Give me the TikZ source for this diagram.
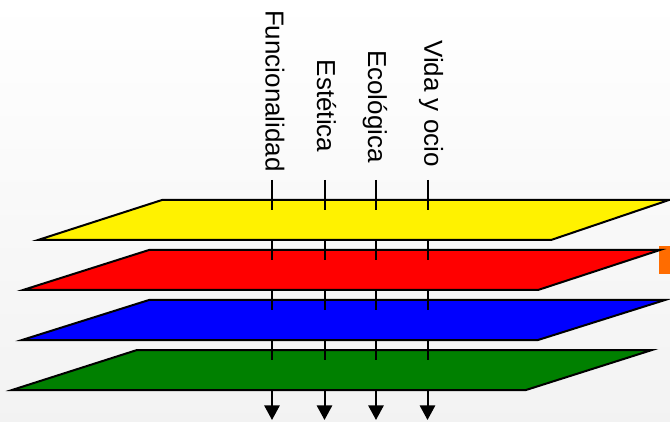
\documentclass[tikz,border=0pt]{standalone}
\usepackage{fontspec}
\setmainfont{Liberation Sans}
\usetikzlibrary{arrows.meta}
\definecolor{tabOrange}{RGB}{255,108,0}
\definecolor{planeGreen}{RGB}{0,128,0}
\begin{document}
\begin{tikzpicture}[x=0.75pt, y=0.75pt]
		% Define the styles for planes, rods and labels
		\tikzset{plane/.style={draw=black, line width=1.5pt, line join=miter},
			rod/.style={draw=black, line width=1.5pt},
			tip/.style={-{Triangle[width=11.5pt, length=11pt]}},
			tag/.style={rotate=-90, inner sep=0pt, font=\fontsize{19.5}{22}\selectfont}}
		
		% Background and bounding box
		\shade[top color=white, middle color=white, bottom color=black!5] (0,0) rectangle (670,421);
		\useasboundingbox (0,0) rectangle (670,421);
		
		% Labels
		\node[tag] (func) at (275,330) {Funcionalidad}; \node[tag] (est) at (326.5,315) {Estética};
		\node[tag] (eco) at (375,314.5) {Ecológica}; \node[tag] (vida) at (431,317.5) {Vida y ocio};
		
		% Tops of the rods and the levels where they cross the planes
		\coordinate (t1) at (272,241); \coordinate (t2) at (324.5,241);
		\coordinate (t3) at (376,241); \coordinate (t4) at (427.5,241);
		\coordinate (yin) at (0,211); \coordinate (yout) at (0,181);
		\coordinate (rin) at (0,161); \coordinate (rout) at (0,131);
		\coordinate (bin) at (0,111); \coordinate (bout) at (0,81);
		\coordinate (gin) at (0,61); \coordinate (gout) at (0,31);
		\coordinate (floor) at (0,1);
		
		% Draw the orange tab behind the red plane
		\fill[tabOrange] (659,147) rectangle (672,175);
		
		% Draw the planes
		\filldraw[plane, fill=yellow] (162,221) -- (669,221) -- (551,181) -- (38,181) -- cycle;
		\filldraw[plane, fill=red] (149,171) -- (660,171) -- (538,131) -- (23,131) -- cycle;
		\filldraw[plane, fill=blue] (149,121) -- (665,121) -- (538,81) -- (22,81) -- cycle;
		\filldraw[plane, fill=planeGreen] (137,71) -- (652,71) -- (526,31) -- (12,31) -- cycle;
		
		% Draw the rods through the planes
		\draw[rod] (t1) -- (t1 |- yin) (t1 |- yout) -- (t1 |- rin) (t1 |- rout) -- (t1 |- bin)
		(t1 |- bout) -- (t1 |- gin); \draw[rod, tip] (t1 |- gout) -- (t1 |- floor);
		\draw[rod] (t2) -- (t2 |- yin) (t2 |- yout) -- (t2 |- rin) (t2 |- rout) -- (t2 |- bin)
		(t2 |- bout) -- (t2 |- gin); \draw[rod, tip] (t2 |- gout) -- (t2 |- floor);
		\draw[rod] (t3) -- (t3 |- yin) (t3 |- yout) -- (t3 |- rin) (t3 |- rout) -- (t3 |- bin)
		(t3 |- bout) -- (t3 |- gin); \draw[rod, tip] (t3 |- gout) -- (t3 |- floor);
		\draw[rod] (t4) -- (t4 |- yin) (t4 |- yout) -- (t4 |- rin) (t4 |- rout) -- (t4 |- bin)
		(t4 |- bout) -- (t4 |- gin); \draw[rod, tip] (t4 |- gout) -- (t4 |- floor);
	\end{tikzpicture}
\end{document}
